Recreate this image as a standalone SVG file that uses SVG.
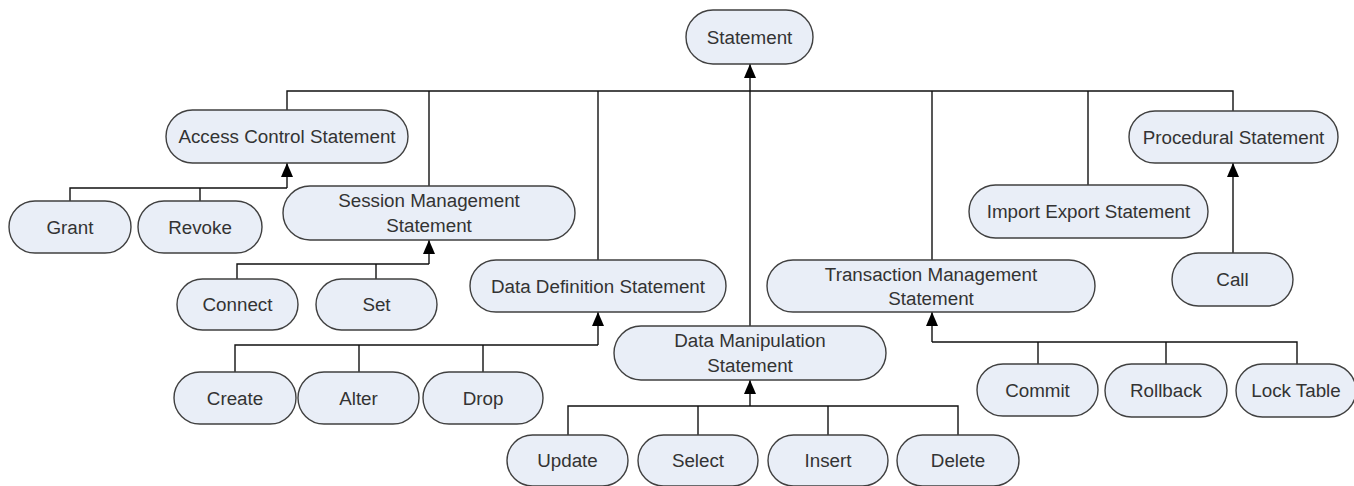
<svg xmlns="http://www.w3.org/2000/svg" width="1354" height="486" viewBox="0 0 1354 486">
<style>
.n rect{fill:#e9eef7;stroke:#404040;stroke-width:1.4}
.n text{font-family:"Liberation Sans",Arial,sans-serif;font-size:18.8px;fill:#333;text-anchor:middle;dominant-baseline:central}
.c path{fill:none;stroke:#111;stroke-width:1.4}
.c path.a{marker-end:url(#ah)}
</style>
<defs>
<marker id="ah" viewBox="0 0 14 12" refX="14" refY="6" markerWidth="14" markerHeight="12" markerUnits="userSpaceOnUse" orient="auto"><path d="M0,0 L14,6 L0,12 z" fill="#000"/></marker>
</defs>
<rect width="1354" height="486" fill="#fff"/>
<g class="c" id="connectors">
<path d="M287,110 V91 H1233 V111"/>
<path d="M429,186 V91"/>
<path d="M598,260 V91"/>
<path d="M932,260 V91"/>
<path d="M1088,185 V91"/>
<path d="M750,326 V91"/>
<path class="a" d="M750,91 V64"/>
<path d="M70,201 V188 H287"/>
<path d="M200,201 V188"/>
<path class="a" d="M287,188 V163"/>
<path d="M237,279 V264 H429"/>
<path d="M376,279 V264"/>
<path class="a" d="M429,264 V240"/>
<path d="M235,372 V345 H598"/>
<path d="M359,372 V345"/>
<path d="M483,372 V345"/>
<path class="a" d="M598,345 V312"/>
<path d="M568,435 V406 H958 V435"/>
<path d="M698,435 V406"/>
<path d="M828,435 V406"/>
<path class="a" d="M750,406 V380"/>
<path d="M932,342 H1297 V364"/>
<path d="M1038,364 V342"/>
<path d="M1166,364 V342"/>
<path class="a" d="M932,342 V312"/>
<path class="a" d="M1233,253 V163"/>
</g>
<g class="n" id="statement"><rect x="686" y="10" width="127" height="54" rx="27"/><text x="749.5" y="37">Statement</text></g>
<g class="n" id="access-control"><rect x="166" y="110" width="242" height="53" rx="26.5"/><text x="287" y="136.5">Access Control Statement</text></g>
<g class="n" id="session-management"><rect x="283" y="186" width="292" height="54" rx="27"/><text x="429" y="200.5">Session Management</text><text x="429" y="225.5">Statement</text></g>
<g class="n" id="grant"><rect x="9" y="201" width="122" height="52" rx="26"/><text x="70" y="227">Grant</text></g>
<g class="n" id="revoke"><rect x="138" y="201" width="124" height="52" rx="26"/><text x="200" y="227">Revoke</text></g>
<g class="n" id="connect"><rect x="177" y="279" width="121" height="51" rx="25.5"/><text x="237.5" y="304.5">Connect</text></g>
<g class="n" id="set"><rect x="316" y="279" width="121" height="51" rx="25.5"/><text x="376.5" y="304.5">Set</text></g>
<g class="n" id="data-definition"><rect x="470" y="260" width="256" height="52" rx="26"/><text x="598" y="286">Data Definition Statement</text></g>
<g class="n" id="create"><rect x="174" y="372" width="122" height="52" rx="26"/><text x="235" y="398">Create</text></g>
<g class="n" id="alter"><rect x="298" y="372" width="121" height="52" rx="26"/><text x="358.5" y="398">Alter</text></g>
<g class="n" id="drop"><rect x="423" y="372" width="120" height="52" rx="26"/><text x="483" y="398">Drop</text></g>
<g class="n" id="data-manipulation"><rect x="614" y="326" width="272" height="54" rx="27"/><text x="750" y="340.5">Data Manipulation</text><text x="750" y="365.5">Statement</text></g>
<g class="n" id="update"><rect x="507" y="435" width="121" height="51" rx="25.5"/><text x="567.5" y="460.5">Update</text></g>
<g class="n" id="select"><rect x="638" y="435" width="120" height="51" rx="25.5"/><text x="698" y="460.5">Select</text></g>
<g class="n" id="insert"><rect x="768" y="435" width="120" height="51" rx="25.5"/><text x="828" y="460.5">Insert</text></g>
<g class="n" id="delete"><rect x="897" y="435" width="122" height="51" rx="25.5"/><text x="958" y="460.5">Delete</text></g>
<g class="n" id="transaction-management"><rect x="767" y="260" width="328" height="52" rx="26"/><text x="931" y="274">Transaction Management</text><text x="931" y="298.5">Statement</text></g>
<g class="n" id="commit"><rect x="977" y="364" width="121" height="52" rx="26"/><text x="1037.5" y="390">Commit</text></g>
<g class="n" id="rollback"><rect x="1105" y="364" width="122" height="53" rx="26.5"/><text x="1166" y="390.5">Rollback</text></g>
<g class="n" id="lock-table"><rect x="1236" y="364" width="120" height="53" rx="26.5"/><text x="1296" y="390.5">Lock Table</text></g>
<g class="n" id="import-export"><rect x="969" y="185" width="239" height="53" rx="26.5"/><text x="1088.5" y="211.5">Import Export Statement</text></g>
<g class="n" id="procedural"><rect x="1129" y="111" width="209" height="52" rx="26"/><text x="1233.5" y="137">Procedural Statement</text></g>
<g class="n" id="call"><rect x="1172" y="253" width="121" height="53" rx="26.5"/><text x="1232.5" y="279.5">Call</text></g>
</svg>
